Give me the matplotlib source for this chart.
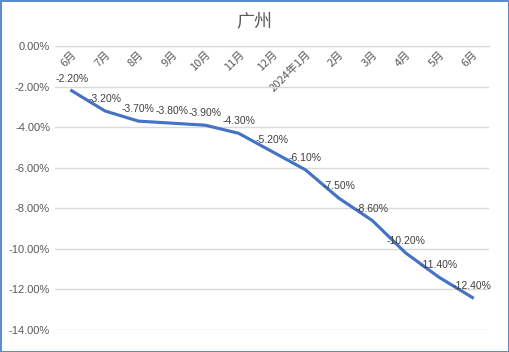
import matplotlib
matplotlib.use("Agg")
import matplotlib.pyplot as plt
from matplotlib.ticker import FuncFormatter

plt.rcParams['font.family'] = ['Noto Sans CJK SC', 'DejaVu Sans']

months = ["6月", "7月", "8月", "9月", "10月", "11月", "12月",
          "2024年1月", "2月", "3月", "4月", "5月", "6月"]
values = [-2.2, -3.2, -3.7, -3.8, -3.9, -4.3, -5.2,
          -6.1, -7.5, -8.6, -10.2, -11.4, -12.4]

grey = "#595959"
blue = "#4472C4"

fig = plt.figure(figsize=(5.09, 3.52), dpi=100)
fig.patch.set_edgecolor("#5B8BD0")
fig.patch.set_linewidth(2)
ax = fig.add_axes((0.108, 0.0625, 0.853, 0.8065))

# move the category axis to y = 0 first (this resets the ticks)
ax.spines["bottom"].set_position(("data", 0))
ax.spines["bottom"].set_color("#d9d9d9")
for s in ["top", "left", "right"]:
    ax.spines[s].set_visible(False)

x = list(range(len(values)))
ax.plot(x, values, color=blue, linewidth=2.25, solid_joinstyle="round")
for xi, v in zip(x, values):
    ax.annotate(f"{v:.2f}%", (xi, v), xytext=(0, 5), textcoords="offset points",
                ha="center", va="bottom", fontsize=7.5, color="#404040",
                family=["Liberation Sans", "DejaVu Sans"])

ax.set_xlim(-0.5, len(values) - 0.5)
ax.set_ylim(-14, 0)
ax.set_yticks(range(-14, 1, 2))
ax.yaxis.set_major_formatter(FuncFormatter(lambda v, p: f"{v:.2f}%"))
ax.grid(axis="y", color="#d9d9d9", linewidth=1)
ax.set_axisbelow(True)

ax.set_xticks(x)
ax.set_xticklabels(months)
ax.tick_params(axis="both", length=0, colors=grey, labelsize=8)
ax.tick_params(axis="x", pad=2)
for lab in ax.get_xticklabels():
    lab.set_rotation(45)
    lab.set_ha("right")
    lab.set_va("top")
    lab.set_rotation_mode("anchor")
for lab in ax.get_yticklabels():
    lab.set_family(["Liberation Sans", "DejaVu Sans"])

fig.text(0.5, 0.94, "广州", ha="center", va="center", fontsize=13, color=grey)

fig.savefig("out.png", dpi=100)
